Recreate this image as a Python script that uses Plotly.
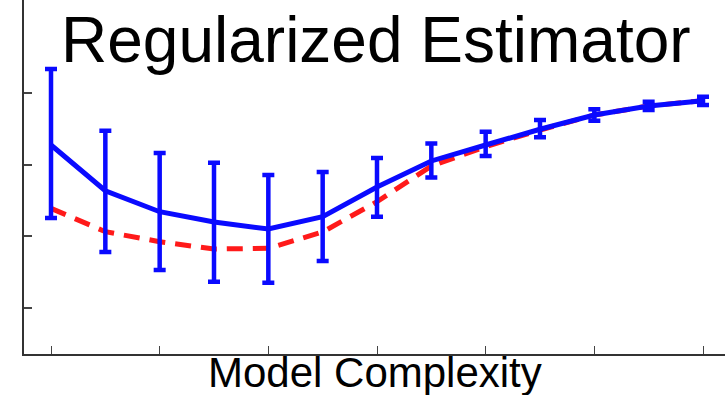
import plotly.graph_objects as go

x_vals = list(range(13))
blue_mean = [3.272, 2.636, 2.344, 2.201, 2.103, 2.275, 2.688, 3.050, 3.272, 3.491, 3.690, 3.815, 3.889]
blue_err_plus = [1.057, 0.835, 0.817, 0.825, 0.751, 0.622, 0.404, 0.243, 0.185, 0.129, 0.079, 0.060, 0.056]
blue_err_minus = [1.016, 0.853, 0.811, 0.831, 0.747, 0.616, 0.413, 0.230, 0.153, 0.111, 0.079, 0.056, 0.060]
red_true = [2.391, 2.066, 1.927, 1.825, 1.835, 2.062, 2.483, 2.980, 3.249, 3.481, 3.690, 3.815, 3.889]
x_ticks = [0, 2, 4, 6, 8, 10, 12]
y_ticks = [1, 2, 3, 4]

title_text = "Regularized Estimator"
xlabel_text = "Model Complexity"

FONT = "Arial, 'Liberation Sans', sans-serif"

fig = go.Figure()
fig.add_trace(go.Scatter(
    x=x_vals, y=red_true, mode="lines",
    line=dict(color="#ff1a1a", width=5, dash="16px,10px"),
    hoverinfo="skip", showlegend=False,
))
fig.add_trace(go.Scatter(
    x=x_vals, y=blue_mean, mode="lines",
    line=dict(color="#0a0aff", width=5),
    error_y=dict(type="data", symmetric=False, array=blue_err_plus,
                 arrayminus=blue_err_minus, color="#0a0aff",
                 thickness=4.5, width=6),
    showlegend=False,
))

fig.update_layout(
    width=725, height=395,
    margin=dict(l=24, r=0, t=0, b=41),
    paper_bgcolor="white", plot_bgcolor="white",
    xaxis=dict(range=[-0.497, 12.405], tickvals=x_ticks, showticklabels=False,
               ticks="inside", ticklen=8, tickwidth=1.2, tickcolor="#444",
               showgrid=False, zeroline=False, showline=True,
               linecolor="#333", linewidth=1.5),
    yaxis=dict(range=[0.364, 5.290], tickvals=y_ticks, showticklabels=False,
               ticks="inside", ticklen=8, tickwidth=1.5, tickcolor="#444",
               showgrid=False, zeroline=False, showline=True,
               linecolor="#333", linewidth=1.5),
    annotations=[
        dict(text=title_text, x=0.502, y=0.887, xref="paper", yref="paper",
             xanchor="center", yanchor="middle", showarrow=False,
             font=dict(family=FONT, size=64, color="black")),
        dict(text=xlabel_text, x=0.501, y=-0.0517, xref="paper", yref="paper",
             xanchor="center", yanchor="middle", showarrow=False,
             font=dict(family=FONT, size=42, color="black")),
    ],
)

fig.write_html("out.html")
